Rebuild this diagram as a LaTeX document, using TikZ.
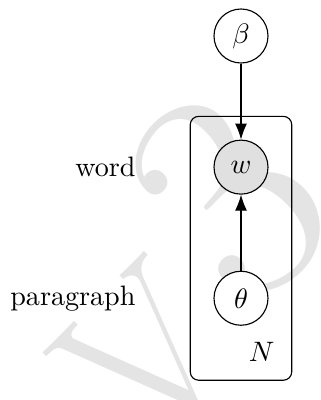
\documentclass[tikz,border=0pt]{standalone}
\usepackage{amsmath,amssymb}
\usepackage{tikz}
\usetikzlibrary{arrows.meta,positioning,calc}
\usepackage{xcolor}
\definecolor{obsgray}{RGB}{224,224,224}
\definecolor{markgray}{RGB}{228,228,228}

\begin{document}
\begin{tikzpicture}[
    node distance=0.95cm,
    latent/.style={circle, draw, fill=white, minimum size=0.675cm, inner sep=0pt},
    obs/.style={latent, fill=obsgray},
    edge/.style={-{Latex[length=2mm, width=1.5mm]}},
    side/.style={font=\normalsize},
    wmark/.style={rotate=45, anchor=base, text=markgray, inner sep=0pt}
]
    \useasboundingbox (0,0) rectangle (4,-5);

    % watermark
    \node[wmark, font=\fontsize{76}{76}\selectfont] (markv) at (2.46,-5.06) {V};
    \node[wmark, font=\fontsize{110}{110}\selectfont] (markiii) at (3.73,-3.36) {3};

    % nodes
    \node[latent] (beta) at (3.0125,-0.45) {$\beta$};
    \node[obs, below=of beta] (w) {$w$};
    \node[latent, below=of w] (theta) {$\theta$};
    \node (N) at ($(theta)+(0.26,-0.675)$) {$N$};

    % plate
    \draw[rounded corners=3pt] ($(w.west |- w.north)+(-0.29,0.29)$) rectangle ($(theta.east |- theta.south)+(0.29,-0.68)$);

    % labels
    \node[side, left=0.85cm of w] (wordlbl) {word};
    \node[side, left=0.85cm of theta] (paralbl) {paragraph};

    % edges
    \draw[edge] (beta) -- (w);
    \draw[edge] (theta) -- (w);
\end{tikzpicture}
\end{document}
